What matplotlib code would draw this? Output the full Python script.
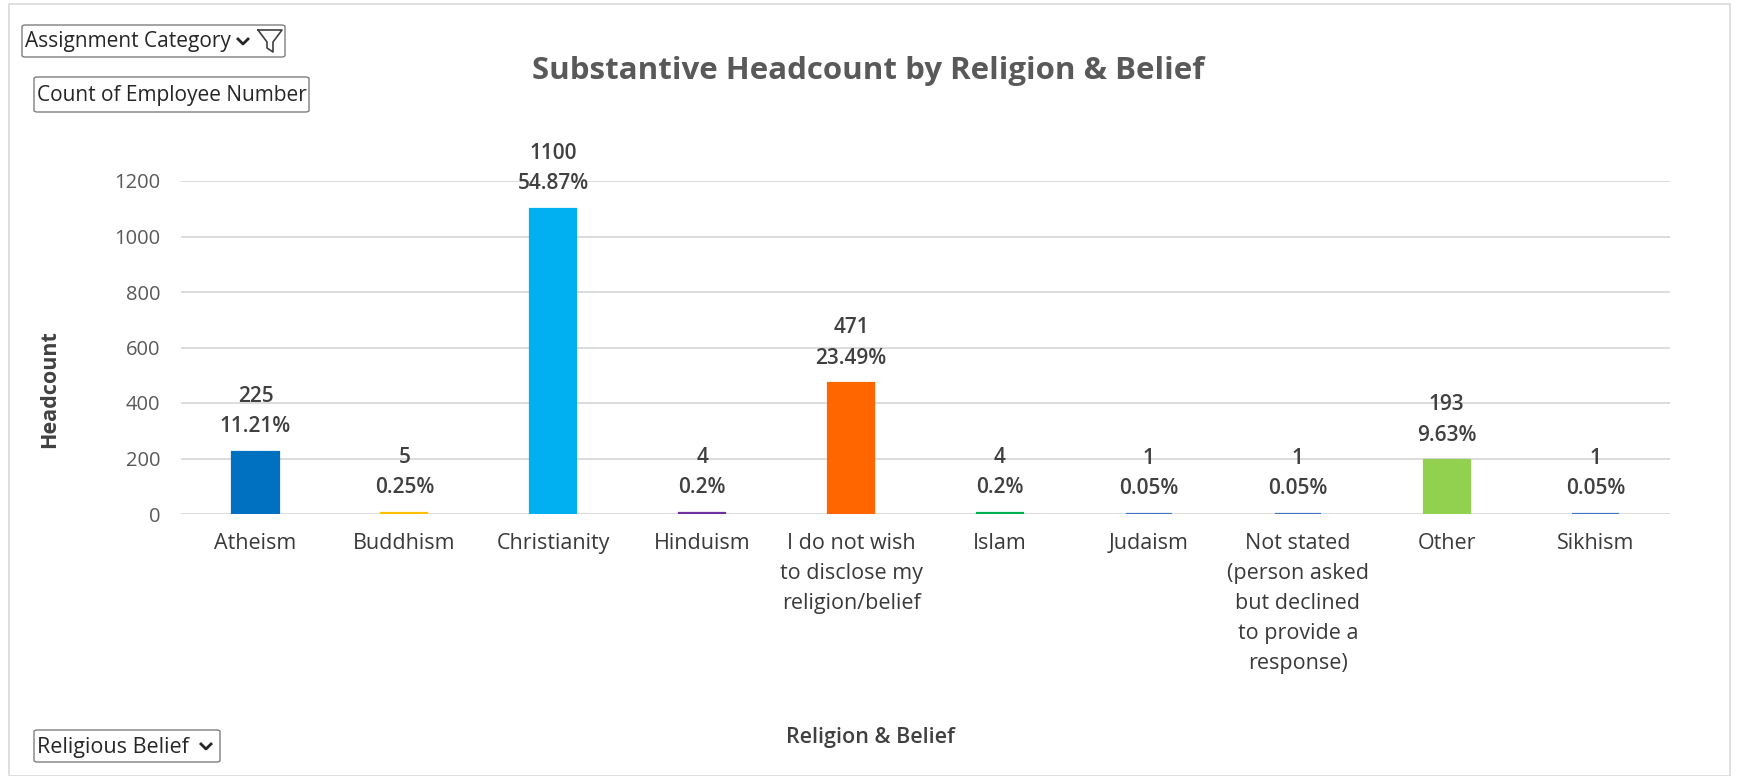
import matplotlib.pyplot as plt
from matplotlib.patches import FancyBboxPatch, Rectangle
from matplotlib.lines import Line2D

# --- Datos ---
categorias = ["Atheism", "Buddhism", "Christianity", "Hinduism",
              "I do not wish\nto disclose my\nreligion/belief", "Islam", "Judaism",
              "Not stated\n(person asked\nbut declined\nto provide a\nresponse)", "Other", "Sikhism"]
headcount = [225, 5, 1100, 4, 471, 4, 1, 1, 193, 1]
porcentajes = ["11.21%", "0.25%", "54.87%", "0.2%", "23.49%", "0.2%", "0.05%", "0.05%", "9.63%", "0.05%"]
colores = ["#0070C0", "#FFC000", "#00B0F0", "#7030A0", "#FF6600",
           "#00B050", "#4472C4", "#4472C4", "#92D050", "#4472C4"]
yticks = [0, 200, 400, 600, 800, 1000, 1200]

plt.rcParams['font.family'] = ['Open Sans', 'DejaVu Sans']

W, H = 1741, 776
fig = plt.figure(figsize=(W / 100, H / 100), dpi=100)

def fx(px):
    return px / W

def fy(py):
    return 1 - py / H

# marco exterior
fig.patches.append(Rectangle((fx(9), fy(776)), fx(1730) - fx(9), fy(4) - fy(776),
                             transform=fig.transFigure, fill=False,
                             edgecolor="#D9D9D9", linewidth=1.2))

ax = fig.add_axes([fx(181), fy(514), fx(1670) - fx(181), fy(181) - fy(514)])

x = range(len(categorias))
ax.bar(x, headcount, width=0.31, color=colores, edgecolor=colores, linewidth=1.6, zorder=3)

ax.set_xlim(-0.5, len(categorias) - 0.5)
ax.set_ylim(0, 1200)
ax.set_yticks(yticks)
ax.set_xticks(list(x))
ax.set_xticklabels(categorias, fontsize=15.5, color="#3A3A3A", linespacing=1.55,
                   fontweight="medium")
ax.tick_params(axis="y", labelsize=14.5, labelcolor="#595959", length=0, pad=15)
ax.tick_params(axis="x", length=0, pad=14)
ax.yaxis.grid(True, color="#D9D9D9", linewidth=1.3, zorder=0)
for s in ax.spines.values():
    s.set_visible(False)

# etiquetas de datos: valor y porcentaje
for i, (v, p) in enumerate(zip(headcount, porcentajes)):
    ax.annotate(str(v), (i, v), xytext=(0, 40), textcoords="offset points",
                ha="center", va="center", fontsize=15, color="#404040",
                fontweight="semibold", clip_on=False)
    ax.annotate(p, (i, v), xytext=(0, 18), textcoords="offset points",
                ha="center", va="center", fontsize=15, color="#404040",
                fontweight="semibold", clip_on=False)

fig.text(fx(868), fy(71), "Substantive Headcount by Religion & Belief",
         ha="center", va="center", fontsize=22.5, fontweight="bold", color="#595959")
fig.text(fx(50), fy(389), "Headcount", ha="center", va="center", rotation=90,
         fontsize=15.5, fontweight="bold", color="#404040")
fig.text(fx(870), fy(737), "Religion & Belief", ha="center", va="center",
         fontsize=15.5, fontweight="semibold", color="#404040")

# botones de campo
def boton(x0, y0, x1, y1, texto, size):
    fig.patches.append(FancyBboxPatch((fx(x0), fy(y1)), fx(x1) - fx(x0), fy(y0) - fy(y1),
                                      boxstyle="round,pad=0,rounding_size=0.002",
                                      transform=fig.transFigure, fill=False,
                                      edgecolor="#7F7F7F", linewidth=1.0))
    fig.text(fx(x0 + 3), fy((y0 + y1) / 2 + 1), texto, ha="left", va="center",
             fontsize=size, color="#262626")

def chevron(cx, cy):
    fig.add_artist(Line2D([fx(cx - 5), fx(cx), fx(cx + 5)], [fy(cy - 3), fy(cy + 2), fy(cy - 3)],
                          transform=fig.transFigure, color="#262626", linewidth=2))

boton(22, 25, 285, 57, "Assignment Category", 15)
chevron(243, 42)
# icono de filtro
fig.add_artist(Line2D([fx(258), fx(282), fx(273), fx(273), fx(267), fx(267), fx(258)],
                      [fy(30), fy(30), fy(42), fy(52), fy(48), fy(42), fy(30)],
                      transform=fig.transFigure, color="#404040", linewidth=1.2))
boton(34, 77, 309, 112, "Count of Employee Number", 15)
boton(34, 730, 220, 762, "Religious Belief", 15.5)
chevron(206, 747)

fig.savefig("out.png", dpi=100)
